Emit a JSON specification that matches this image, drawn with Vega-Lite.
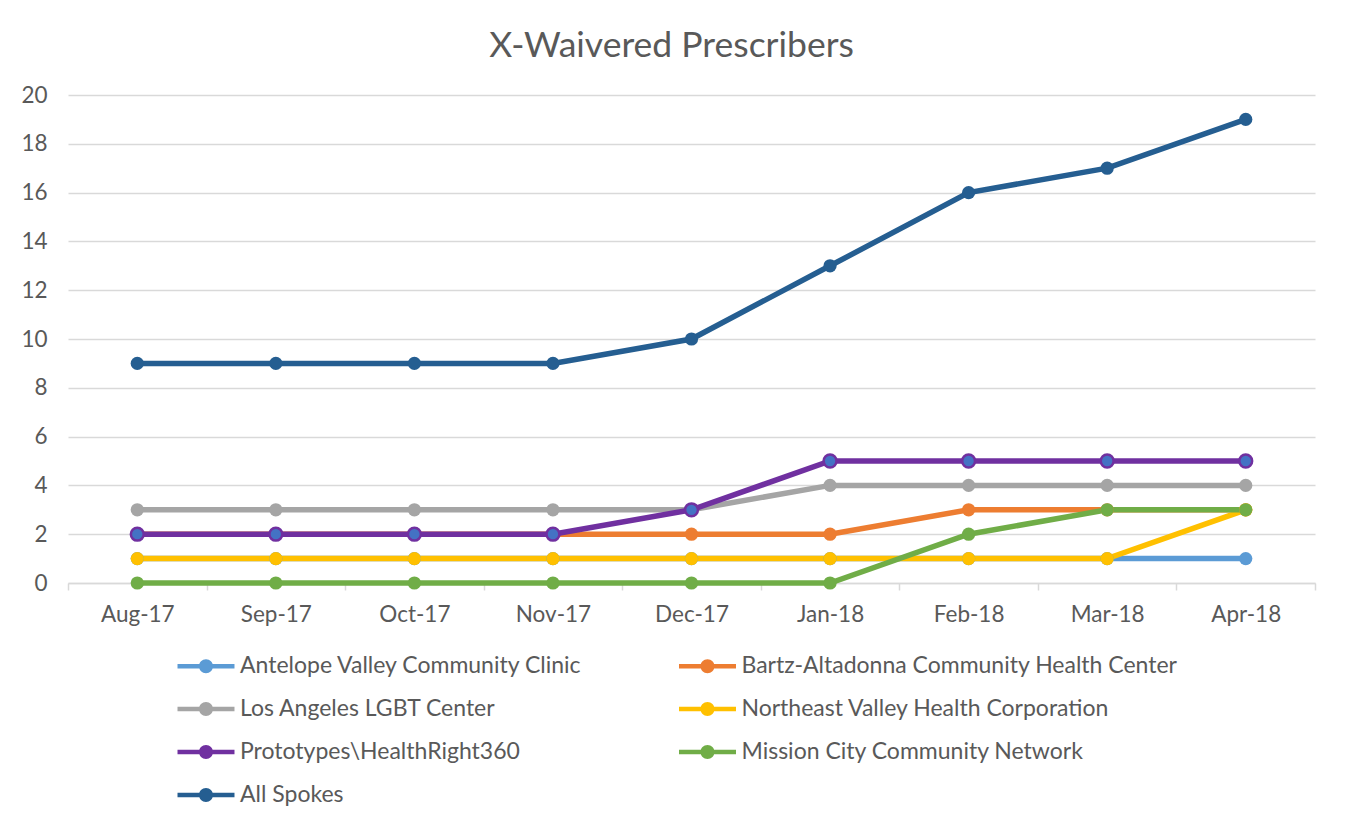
{
  "$schema": "https://vega.github.io/schema/vega-lite/v6.json",
  "width": 1247,
  "height": 488,
  "autosize": {"type": "none"},
  "padding": {"left": 68, "top": 95, "right": 30, "bottom": 247},
  "background": "white",
  "config": {
    "font": "Lato",
    "view": {"stroke": null},
    "axis": {"labelFont": "Lato", "labelColor": "#595959", "labelFontSize": 22.5}
  },
  "title": {
    "text": "X-Waivered Prescribers",
    "font": "Lato",
    "fontSize": 35.5,
    "fontWeight": "normal",
    "color": "#595959",
    "anchor": "middle",
    "dx": -20,
    "offset": 20
  },
  "data": {
    "values": [
      {"month": "Aug-17", "series": "Antelope Valley Community Clinic", "value": 1},
      {"month": "Sep-17", "series": "Antelope Valley Community Clinic", "value": 1},
      {"month": "Oct-17", "series": "Antelope Valley Community Clinic", "value": 1},
      {"month": "Nov-17", "series": "Antelope Valley Community Clinic", "value": 1},
      {"month": "Dec-17", "series": "Antelope Valley Community Clinic", "value": 1},
      {"month": "Jan-18", "series": "Antelope Valley Community Clinic", "value": 1},
      {"month": "Feb-18", "series": "Antelope Valley Community Clinic", "value": 1},
      {"month": "Mar-18", "series": "Antelope Valley Community Clinic", "value": 1},
      {"month": "Apr-18", "series": "Antelope Valley Community Clinic", "value": 1},
      {"month": "Aug-17", "series": "Bartz-Altadonna Community Health Center", "value": 2},
      {"month": "Sep-17", "series": "Bartz-Altadonna Community Health Center", "value": 2},
      {"month": "Oct-17", "series": "Bartz-Altadonna Community Health Center", "value": 2},
      {"month": "Nov-17", "series": "Bartz-Altadonna Community Health Center", "value": 2},
      {"month": "Dec-17", "series": "Bartz-Altadonna Community Health Center", "value": 2},
      {"month": "Jan-18", "series": "Bartz-Altadonna Community Health Center", "value": 2},
      {"month": "Feb-18", "series": "Bartz-Altadonna Community Health Center", "value": 3},
      {"month": "Mar-18", "series": "Bartz-Altadonna Community Health Center", "value": 3},
      {"month": "Apr-18", "series": "Bartz-Altadonna Community Health Center", "value": 3},
      {"month": "Aug-17", "series": "Los Angeles LGBT Center", "value": 3},
      {"month": "Sep-17", "series": "Los Angeles LGBT Center", "value": 3},
      {"month": "Oct-17", "series": "Los Angeles LGBT Center", "value": 3},
      {"month": "Nov-17", "series": "Los Angeles LGBT Center", "value": 3},
      {"month": "Dec-17", "series": "Los Angeles LGBT Center", "value": 3},
      {"month": "Jan-18", "series": "Los Angeles LGBT Center", "value": 4},
      {"month": "Feb-18", "series": "Los Angeles LGBT Center", "value": 4},
      {"month": "Mar-18", "series": "Los Angeles LGBT Center", "value": 4},
      {"month": "Apr-18", "series": "Los Angeles LGBT Center", "value": 4},
      {"month": "Aug-17", "series": "Northeast Valley Health Corporation", "value": 1},
      {"month": "Sep-17", "series": "Northeast Valley Health Corporation", "value": 1},
      {"month": "Oct-17", "series": "Northeast Valley Health Corporation", "value": 1},
      {"month": "Nov-17", "series": "Northeast Valley Health Corporation", "value": 1},
      {"month": "Dec-17", "series": "Northeast Valley Health Corporation", "value": 1},
      {"month": "Jan-18", "series": "Northeast Valley Health Corporation", "value": 1},
      {"month": "Feb-18", "series": "Northeast Valley Health Corporation", "value": 1},
      {"month": "Mar-18", "series": "Northeast Valley Health Corporation", "value": 1},
      {"month": "Apr-18", "series": "Northeast Valley Health Corporation", "value": 3},
      {"month": "Aug-17", "series": "Prototypes\\HealthRight360", "value": 2},
      {"month": "Sep-17", "series": "Prototypes\\HealthRight360", "value": 2},
      {"month": "Oct-17", "series": "Prototypes\\HealthRight360", "value": 2},
      {"month": "Nov-17", "series": "Prototypes\\HealthRight360", "value": 2},
      {"month": "Dec-17", "series": "Prototypes\\HealthRight360", "value": 3},
      {"month": "Jan-18", "series": "Prototypes\\HealthRight360", "value": 5},
      {"month": "Feb-18", "series": "Prototypes\\HealthRight360", "value": 5},
      {"month": "Mar-18", "series": "Prototypes\\HealthRight360", "value": 5},
      {"month": "Apr-18", "series": "Prototypes\\HealthRight360", "value": 5},
      {"month": "Aug-17", "series": "Mission City Community Network", "value": 0},
      {"month": "Sep-17", "series": "Mission City Community Network", "value": 0},
      {"month": "Oct-17", "series": "Mission City Community Network", "value": 0},
      {"month": "Nov-17", "series": "Mission City Community Network", "value": 0},
      {"month": "Dec-17", "series": "Mission City Community Network", "value": 0},
      {"month": "Jan-18", "series": "Mission City Community Network", "value": 0},
      {"month": "Feb-18", "series": "Mission City Community Network", "value": 2},
      {"month": "Mar-18", "series": "Mission City Community Network", "value": 3},
      {"month": "Apr-18", "series": "Mission City Community Network", "value": 3},
      {"month": "Aug-17", "series": "All Spokes", "value": 9},
      {"month": "Sep-17", "series": "All Spokes", "value": 9},
      {"month": "Oct-17", "series": "All Spokes", "value": 9},
      {"month": "Nov-17", "series": "All Spokes", "value": 9},
      {"month": "Dec-17", "series": "All Spokes", "value": 10},
      {"month": "Jan-18", "series": "All Spokes", "value": 13},
      {"month": "Feb-18", "series": "All Spokes", "value": 16},
      {"month": "Mar-18", "series": "All Spokes", "value": 17},
      {"month": "Apr-18", "series": "All Spokes", "value": 19}
    ]
  },
  "encoding": {
    "x": {
      "field": "month",
      "type": "ordinal",
      "sort": ["Aug-17", "Sep-17", "Oct-17", "Nov-17", "Dec-17", "Jan-18", "Feb-18", "Mar-18", "Apr-18"],
      "scale": {"type": "band", "paddingInner": 0, "paddingOuter": 0},
      "axis": {
        "title": null,
        "labelAngle": 0,
        "tickBand": "extent",
        "domainColor": "#D9D9D9",
        "domainWidth": 1.5,
        "tickColor": "#D9D9D9",
        "tickWidth": 1.5,
        "tickSize": 7,
        "labelPadding": 13,
        "grid": false
      }
    },
    "y": {
      "field": "value",
      "type": "quantitative",
      "scale": {"domain": [0, 20], "nice": false},
      "axis": {
        "title": null,
        "values": [0, 2, 4, 6, 8, 10, 12, 14, 16, 18, 20],
        "domain": false,
        "ticks": false,
        "labelPadding": 21,
        "gridColor": "#D9D9D9",
        "gridWidth": 1.5
      }
    },
    "color": {
      "field": "series",
      "type": "nominal",
      "sort": null,
      "scale": {
        "domain": ["Antelope Valley Community Clinic", "Bartz-Altadonna Community Health Center", "Los Angeles LGBT Center", "Northeast Valley Health Corporation", "Prototypes\\HealthRight360", "Mission City Community Network", "All Spokes"],
        "range": ["#5B9BD5", "#ED7D31", "#A5A5A5", "#FFC000", "#7030A0", "#70AD47", "#255E91"]
      },
      "legend": {
        "title": null,
        "orient": "none",
        "legendX": 126.5,
        "legendY": 559.5,
        "direction": "horizontal",
        "columns": 2,
        "columnPadding": 95.5,
        "rowPadding": 19,
        "symbolType": "M-4.07,-0.31H4.07V0.31H-4.07Z M1,0A1,1,0,1,1,-1,0A1,1,0,1,1,1,0Z",
        "symbolSize": 196,
        "symbolStrokeWidth": 0,
        "labelFont": "Lato",
        "labelFontSize": 23,
        "labelColor": "#595959",
        "labelLimit": 700,
        "labelOffset": 22.5,
        "encode": {
          "symbols": {
            "update": {
              "fill": {"scale": "color", "field": "value"},
              "strokeWidth": {"value": 0}
            }
          }
        }
      }
    }
  },
  "layer": [
    {
      "mark": {"type": "line", "strokeWidth": 5.5}
    },
    {
      "mark": {"type": "point", "filled": true, "size": 175, "opacity": 1}
    },
    {
      "transform": [{"filter": {"field": "series", "equal": "Prototypes\\HealthRight360"}}],
      "mark": {"type": "point", "filled": true, "size": 165, "opacity": 1, "fill": "#4472C4", "stroke": "#7030A0", "strokeWidth": 2.5},
      "encoding": {"color": {"value": "#7030A0"}, "fill": {"value": "#4472C4"}}
    }
  ]
}
